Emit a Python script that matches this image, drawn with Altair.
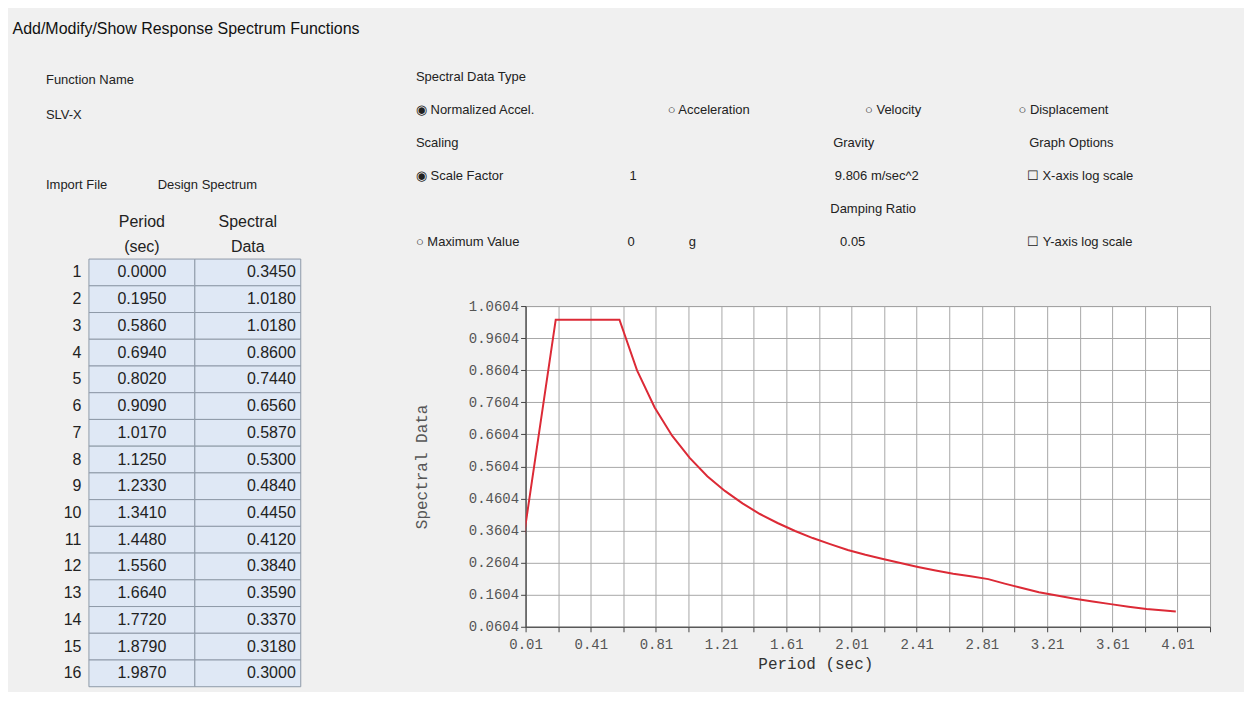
import altair as alt
import pandas as pd

# ---- data ----
period = [0.0000, 0.1950, 0.5860, 0.6940, 0.8020, 0.9090, 1.0170, 1.1250, 1.2330, 1.3410,
          1.4480, 1.5560, 1.6640, 1.7720, 1.8790, 1.9870,
          2.095, 2.203, 2.310, 2.418, 2.526, 2.634, 2.741, 2.849, 2.950, 3.050,
          3.160, 3.270, 3.380, 3.490, 3.600, 3.710, 3.820, 3.930, 4.000]
spectral = [0.3450, 1.0180, 1.0180, 0.8600, 0.7440, 0.6560, 0.5870, 0.5300, 0.4840, 0.4450,
            0.4120, 0.3840, 0.3590, 0.3370, 0.3180, 0.3000,
            0.285, 0.272, 0.259, 0.247, 0.236, 0.226, 0.218, 0.209, 0.195, 0.182,
            0.168, 0.158, 0.148, 0.139, 0.131, 0.123, 0.116, 0.111, 0.108]
table_rows = list(range(1, 17))
table_cols = ["Period (sec)", "Spectral Data"]
x_ticks = [round(0.01 + 0.2 * i, 2) for i in range(22)]
y_ticks = [round(0.0604 + 0.1 * i, 4) for i in range(11)]

GUI_FONT = "Liberation Sans"
MONO = "Liberation Mono"
ZW = "\u200b"
nb = lambda n: "\u00a0" * n
NOVIEW = alt.ViewBackground(fill="transparent", stroke="transparent")

# ---- table ----
tbl = pd.DataFrame({
    "row": table_rows * 2,
    "col": [table_cols[0]] * 16 + [table_cols[1]] * 16,
    "txt": [f"{v:.4f}" for v in period[:16]] + [f"{v:.4f}" for v in spectral[:16]],
})
tbase = alt.Chart(tbl).encode(
    x=alt.X("col:N", scale=alt.Scale(domain=table_cols, paddingInner=0, paddingOuter=0),
            axis=alt.Axis(orient="top", title=None, labelAngle=0, ticks=False, domain=False,
                          labelExpr="split(datum.label, ' ')", labelFont=GUI_FONT,
                          labelFontSize=16, labelColor="#222", labelPadding=30,
                          labelLineHeight=25)),
    y=alt.Y("row:O", scale=alt.Scale(paddingInner=0, paddingOuter=0),
            axis=alt.Axis(title=None, ticks=False, domain=False, labelFont=GUI_FONT,
                          labelFontSize=16, labelColor="#222", labelPadding=8,
                          minExtent=76)),
)
cells = tbase.mark_rect(fill="#dfe8f5", stroke="#8f9aa8", strokeWidth=1)
t_per = tbase.transform_filter(alt.datum.col == table_cols[0]).mark_text(
    align="center", font=GUI_FONT, fontSize=16, color="#222").encode(text="txt:N")
t_spe = tbase.transform_filter(alt.datum.col == table_cols[1]).mark_text(
    align="right", dx=48, font=GUI_FONT, fontSize=16, color="#222").encode(text="txt:N")
table = alt.layer(cells, t_per, t_spe).properties(
    width=212, height=428, view=NOVIEW,
    title=alt.TitleParams(
        text=["Function Name", "SLV-X", ZW, "Import File" + nb(14) + "Design Spectrum"],
        anchor="start", font=GUI_FONT, fontSize=13, fontWeight="normal", color="#222",
        lineHeight=35, offset=21, dx=33),
)

# ---- plot ----
df = pd.DataFrame({"Period": period, "Spectral": spectral})
plot = alt.Chart(df).mark_line(color="#dc2a36", strokeWidth=2, clip=True).encode(
    x=alt.X("Period:Q", scale=alt.Scale(domain=[0.01, 4.21], nice=False, zero=False),
            axis=alt.Axis(values=x_ticks, title="Period (sec)",
                          labelExpr="round((datum.value - 0.01) * 5) % 2 == 0 ? format(datum.value, '.2f') : ''",
                          grid=True, gridColor="#a8a8a8", gridOpacity=1, domainColor="#444",
                          tickColor="#444", tickSize=5, labelFont=MONO, labelFontSize=14,
                          labelColor="#555", titleFont=MONO, titleFontSize=16,
                          titleFontWeight="normal", titleColor="#333", labelPadding=6,
                          titlePadding=4, labelFlush=False, titleX=290)),
    y=alt.Y("Spectral:Q", scale=alt.Scale(domain=[0.0604, 1.0604], nice=False, zero=False),
            axis=alt.Axis(values=y_ticks, format=".4f", title="Spectral Data",
                          grid=True, gridColor="#a8a8a8", gridOpacity=1, domainColor="#444",
                          tickColor="#444", tickSize=5, labelFont=MONO, labelFontSize=14,
                          labelColor="#555", titleFont=MONO, titleFontSize=16,
                          titleFontWeight="normal", titleColor="#555", labelFlush=False,
                          titlePadding=39)),
).properties(width=685, height=321, view=alt.ViewBackground(fill="white", stroke="#444"))

right_top = alt.Chart(pd.DataFrame({"v": [0]})).mark_point(opacity=0).encode(
    x=alt.value(0), y=alt.value(0)
).properties(
    width=685, height=1, view=NOVIEW,
    title=alt.TitleParams(text=[
        "Spectral Data Type",
        "\u25c9 Normalized Accel." + nb(37) + "\u25cb Acceleration" + nb(32) + "\u25cb Velocity" + nb(27) + "\u25cb Displacement",
        "Scaling" + nb(104) + "Gravity" + nb(43) + "Graph Options",
        "\u25c9 Scale Factor" + nb(35) + "1" + nb(55) + "9.806 m/sec^2" + nb(30) + "\u2610 X-axis log scale",
        ZW + nb(115) + "Damping Ratio",
        "\u25cb Maximum Value" + nb(30) + "0" + nb(15) + "g" + nb(40) + "0.05" + nb(45) + "\u2610 Y-axis log scale",
    ], anchor="start", font=GUI_FONT, fontSize=13, fontWeight="normal", color="#222",
        lineHeight=33, offset=7, dx=-107),
)
right_col = alt.vconcat(right_top, plot, spacing=35)

chart = alt.hconcat(table, right_col, spacing=111).properties(
    title=alt.TitleParams("Add/Modify/Show Response Spectrum Functions", anchor="start",
                          font=GUI_FONT, fontSize=16, fontWeight="normal", color="#111",
                          offset=34),
    padding={"left": 4, "top": 12, "right": 33, "bottom": 4},
).configure(background="#f0f0f0")

chart.save("out.html", embed_options={"renderer": "svg", "actions": False})
